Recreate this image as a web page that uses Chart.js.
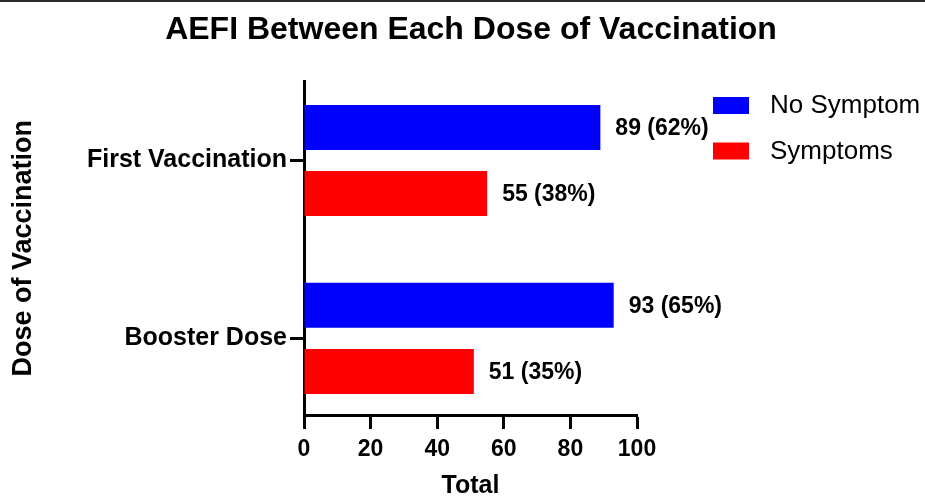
<!DOCTYPE html>
<html>
<head>
<meta charset="utf-8">
<script src="https://cdn.jsdelivr.net/npm/chart.js@4/dist/chart.umd.min.js"></script>
<style>
  html, body { margin: 0; padding: 0; background: #fff; }
  #wrap { position: relative; width: 925px; height: 498px; overflow: hidden; }
  #topline { position: absolute; left: 0; top: 0; width: 925px; height: 2px; background: #2b2b2b; z-index: 2; }
</style>
</head>
<body>
<div id="wrap">
  <div id="topline"></div>
  <canvas id="c"></canvas>
</div>
<script>
// ---- data ----
const categories = ['First Vaccination', 'Booster Dose'];
const seriesNames = ['No Symptom', 'Symptoms'];
const noSymptom = [89, 93];
const symptoms = [55, 51];
const seriesColors = ['#0000FF', '#FF0000'];
const xMin = 0, xMax = 100, xStep = 20;

const FONT = "'Liberation Sans', Arial, Helvetica, sans-serif";

function toPoints(values) {
  return values.map((v, i) => ({ x: v, y: i }));
}

// data labels: "value (pct%)"
const valueLabels = {
  id: 'valueLabels',
  afterDatasetsDraw(chart) {
    const ctx = chart.ctx;
    ctx.save();
    ctx.font = 'bold 23px ' + FONT;
    ctx.fillStyle = '#000';
    ctx.textAlign = 'left';
    ctx.textBaseline = 'middle';
    chart.data.datasets.forEach((ds, di) => {
      const meta = chart.getDatasetMeta(di);
      meta.data.forEach((bar, i) => {
        const v = ds.data[i].x;
        let total = 0;
        chart.data.datasets.forEach(d => { total += d.data[i].x; });
        const pct = Math.round(v / total * 100);
        ctx.fillText(v + ' (' + pct + '%)', bar.x + 15, bar.y + 1);
      });
    });
    ctx.restore();
  }
};

// legend as a layout box on the right
const sideLegend = {
  id: 'sideLegend',
  beforeInit(chart) {
    const box = {
      position: 'right', weight: 10, fullSize: false, options: {},
      left: 0, top: 0, right: 0, bottom: 0, width: 0, height: 0,
      isHorizontal() { return false; },
      update(maxWidth, maxHeight) { this.width = 288; this.height = maxHeight; },
      draw() {
        const ctx = chart.ctx;
        ctx.save();
        ctx.font = '26px ' + FONT;
        ctx.textAlign = 'left';
        ctx.textBaseline = 'middle';
        chart.data.datasets.forEach((ds, i) => {
          const y = 97 + i * 45.5;
          ctx.fillStyle = ds.backgroundColor;
          ctx.fillRect(this.left + 76, y, 36, 17);
          ctx.fillStyle = '#000';
          ctx.fillText(ds.label, this.left + 133, y + 9);
        });
        ctx.restore();
      }
    };
    Chart.layouts.addBox(chart, box);
  }
};

new Chart(document.getElementById('c'), {
  type: 'bar',
  data: {
    datasets: [
      { label: seriesNames[0], data: toPoints(noSymptom), backgroundColor: seriesColors[0] },
      { label: seriesNames[1], data: toPoints(symptoms), backgroundColor: seriesColors[1] }
    ]
  },
  options: {
    indexAxis: 'y',
    responsive: true,
    maintainAspectRatio: false,
    animation: false,
    categoryPercentage: 0.744,
    barPercentage: 0.68,
    layout: { padding: { left: 17, right: 0, top: 0, bottom: 0 } },
    plugins: {
      legend: { display: false },
      tooltip: { enabled: false },
      title: {
        display: true,
        text: 'AEFI Between Each Dose of Vaccination',
        color: '#000',
        font: { family: FONT, size: 32, weight: 'bold' },
        padding: { top: 11, bottom: 32 }
      }
    },
    scales: {
      x: {
        type: 'linear',
        position: 'bottom',
        min: xMin, max: xMax,
        ticks: { stepSize: xStep, color: '#000', padding: 7, font: { family: FONT, size: 23, weight: 'bold' } },
        grid: { display: true, drawOnChartArea: false, drawTicks: true, tickLength: 14, tickWidth: 3, tickColor: '#000' },
        border: { display: true, color: '#000', width: 3 },
        title: { display: true, text: 'Total', color: '#000', font: { family: FONT, size: 25, weight: 'bold' }, padding: { top: 0, bottom: -3 } },
        afterFit(scale) { scale.height = 83; }
      },
      y: {
        type: 'linear',
        position: 'left',
        reverse: true,
        offset: false,
        min: -0.445, max: 1.431,
        afterBuildTicks(scale) { scale.ticks = categories.map((c, i) => ({ value: i })); },
        ticks: {
          color: '#000', padding: 3,
          font: { family: FONT, size: 25, weight: 'bold' },
          callback: (v) => categories[v]
        },
        grid: { display: true, offset: false, drawOnChartArea: false, drawTicks: true, tickLength: 14, tickWidth: 3, tickColor: '#000' },
        border: { display: true, color: '#000', width: 3 },
        title: { display: true, text: 'Dose of Vaccination', color: '#000', font: { family: FONT, size: 27, weight: 'bold' }, padding: { top: -10, bottom: 0 } },
        afterFit(scale) { scale.width = 287; }
      }
    }
  },
  plugins: [valueLabels, sideLegend]
});
</script>
</body>
</html>
